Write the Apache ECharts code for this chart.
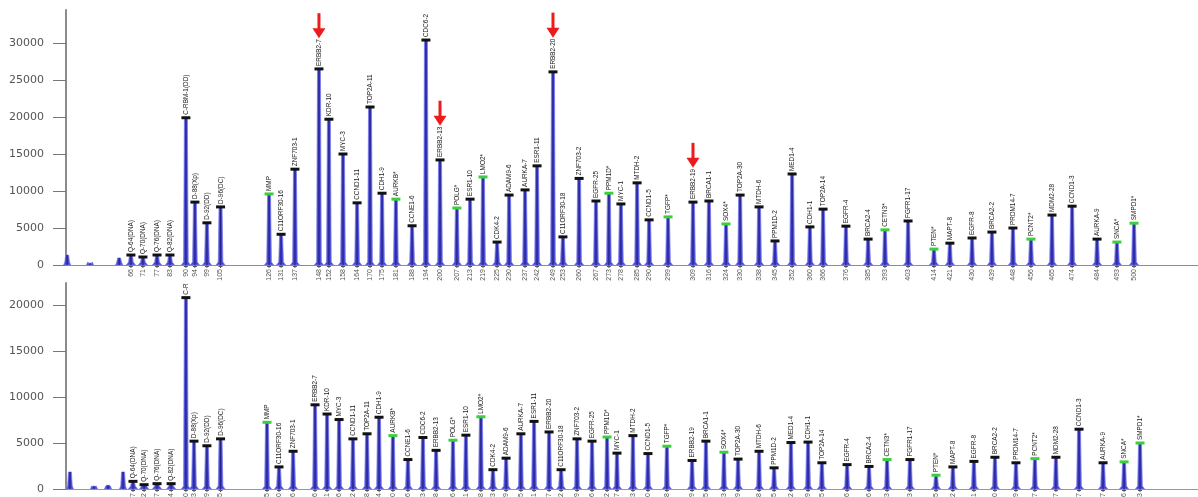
<!DOCTYPE html>
<html><head><meta charset="utf-8">
<script src="https://cdn.jsdelivr.net/npm/echarts@6/dist/echarts.min.js"></script>
<style>html,body{margin:0;padding:0;background:#fff}#c{width:1198px;height:497px}</style>
</head><body><div id="c"></div>
<script>
// ---- data (probe name, fragment size in nt, peak height) ----
const probeLabels = ["Q-64(DNA)","Q-70(DNA)","Q-76(DNA)","Q-82(DNA)","C-RBM-1(DD)","D-88(Xp)","D-92(DD)","D-96(DC)",
  "MMP","C11ORF30-16","ZNF703-1","ERBB2-7","KDR-10","MYC-3","CCND1-11","TOP2A-11","CDH1-9","AURKB*","CCNE1-6",
  "CDC6-2","ERBB2-13","POLG*","ESR1-10","LMO2*","CDK4-2","ADAM9-6","AURKA-7","ESR1-11","ERBB2-20","C11ORF30-18",
  "ZNF703-2","EGFR-25","PPM1D*","MYC-1","MTDH-2","CCND1-5","TGFP*","ERBB2-19","BRCA1-1","SOX4*","TOP2A-30",
  "MTDH-6","PPM1D-2","MED1-4","CDH1-1","TOP2A-14","EGFR-4","BRCA2-4","CETN3*","FGFR1-17","PTEN*","MAPT-8",
  "EGFR-8","BRCA2-2","PRDM14-7","PCNT2*","MDM2-28","CCND1-3","AURKA-9","SNCA*","SMPD1*"];
const refProbeIdx = [8,17,21,23,32,36,39,48,50,55,59,60];
const arrowProbes = ["ERBB2-7","ERBB2-13","ERBB2-20","ERBB2-19"];

const topSizes = [66.1,71.3,77.4,83.0,89.9,93.8,99.0,104.9,125.9,131.1,137.1,147.5,151.8,157.9,164.0,169.6,174.8,
  180.8,187.8,193.8,199.9,207.2,212.9,218.5,224.6,229.8,236.7,241.9,248.8,253.1,260.1,267.4,273.0,278.2,285.2,
  290.4,298.6,309.4,316.3,323.7,329.8,338.0,344.9,352.3,360.0,365.7,375.6,385.2,392.5,402.5,413.7,420.6,430.2,
  438.8,447.9,455.7,464.8,473.5,484.3,492.9,500.3];
const topHeights = [1350,1080,1350,1350,19900,8500,5700,7850,9600,4150,12950,26500,19700,15000,8400,21350,9700,
  8900,5300,30400,14200,7700,8900,11900,3100,9450,10150,13400,26100,3800,11700,8650,9700,8250,11100,6100,6500,
  8500,8650,5550,9450,7850,3250,12300,5150,7550,5250,3500,4750,5950,2150,2950,3650,4450,5000,3500,6750,7950,
  3500,3100,5650];
const topMinorSizes = [38.5,48.4,61.0];
const topMinorHeights = [1350,250,950];

const bottomSizes = [67.0,71.8,77.4,83.5,89.9,93.4,99.0,104.9,125.0,130.2,136.3,145.8,151.0,156.2,162.2,168.3,
  173.5,179.5,186.0,192.5,198.2,205.5,211.1,217.6,222.8,228.5,234.9,240.6,247.1,252.3,259.2,265.7,272.2,276.5,
  283.4,289.9,298.1,309.0,315.0,322.8,328.9,338.0,344.5,351.8,359.2,365.2,376.1,385.6,393.4,403.3,414.6,421.9,
  431.0,440.1,449.2,457.4,466.5,476.5,486.9,496.0,502.9];
const bottomHeights = [830,470,580,580,20800,5200,4700,5450,7250,2400,4100,9150,8150,7550,5450,6000,7800,5800,
  3200,5600,4200,5300,5850,7850,2100,3350,6000,7350,6200,2100,5450,5200,5650,3900,5800,3850,4650,3100,5200,4000,
  3250,4100,2300,5050,5100,2850,2650,2450,3200,3200,1500,2400,3000,3450,2850,3300,3450,6500,2850,2950,5000];
const bottomMinorSizes = [39.7,50.1,56.2,62.7];
const bottomMinorHeights = [1850,300,400,1850];

const topTicks = [0,5000,10000,15000,20000,25000,30000];
const bottomTicks = [0,5000,10000,15000,20000];

// ---- rendering ----
const LABEL_FONT = "8px 'Liberation Sans', Arial, sans-serif";
const LABEL_SCALE = 0.8;
const measureCtx = document.createElement('canvas').getContext('2d');
measureCtx.font = LABEL_FONT;
function labelLen(t){ return measureCtx.measureText(t).width * LABEL_SCALE; }

function peakShape(x, yT, y0, major){
  const hw = major ? 4.5 : 3.5;
  return [
    {type:'polygon', shape:{points:[[x-hw,y0],[x-2.3,y0-3],[x-1.5,yT],[x+1.5,yT],[x+2.3,y0-3],[x+hw,y0]]},
      style:{fill:'#4646d0', stroke:'rgba(120,120,235,0.75)', lineWidth:1}},
    {type:'line', shape:{x1:x,y1:y0,x2:x,y2:yT}, style:{stroke:'#22228a', lineWidth:1.2}}
  ];
}

function peakRender(params, api){
  const i = params.dataIndex;
  const t = api.coord([api.value(0), api.value(1)]);
  const b = api.coord([api.value(0), 0]);
  const x = t[0], yT = t[1], y0 = b[1];
  const children = peakShape(x, yT, y0, true);
  const ref = refProbeIdx.indexOf(i) >= 0;
  children.push({type:'rect', shape:{x:x-4.5, y:yT-1.5, width:9, height:3},
    style:{fill: ref ? '#3ccf3c' : '#111'}});
  const name = probeLabels[i];
  children.push({type:'text', x:x, y:yT-3, rotation:Math.PI/2, scaleX:LABEL_SCALE,
    style:{text:name, font:LABEL_FONT, fill:'#1a1a1a', align:'left', verticalAlign:'middle'}});
  if (params.seriesIndex === 0 && arrowProbes.indexOf(name) >= 0){
    const tip = yT - 3 - labelLen(name) - 1;
    children.push({type:'line', shape:{x1:x,y1:tip-25,x2:x,y2:tip-8}, style:{stroke:'#ee1b1b', lineWidth:3}});
    children.push({type:'polygon', shape:{points:[[x-6.5,tip-10],[x+6.5,tip-10],[x,tip]]}, style:{fill:'#ee1b1b'}});
  }
  return {type:'group', children};
}

function minorRender(params, api){
  const t = api.coord([api.value(0), api.value(1)]);
  const b = api.coord([api.value(0), 0]);
  return {type:'group', children: peakShape(t[0], t[1], b[1], false)};
}

function sizeRender(params, api){
  const b = api.coord([api.value(0), 0]);
  const x = b[0], y0 = b[1];
  return {type:'group', children:[
    {type:'line', shape:{x1:x-2,y1:y0+1.5,x2:x+2,y2:y0+1.5}, style:{stroke:'#555', lineWidth:1}},
    {type:'line', shape:{x1:x,y1:y0,x2:x,y2:y0+3}, style:{stroke:'#555', lineWidth:1}},
    {type:'text', x:x, y:y0+4, rotation:Math.PI/2,
      style:{text:String(Math.round(api.value(0))), font:"7px 'Liberation Sans', Arial, sans-serif",
        fill:'#555', align:'right', verticalAlign:'middle'}}
  ]};
}

const pairs = (s,h) => s.map((v,i)=>[v,h[i]]);

function yAxisCfg(gridIndex, max, ticks){
  return {type:'value', gridIndex, min:0, max, interval:5000,
    axisLine:{show:true, lineStyle:{color:'#8c8c8c', width:2}},
    axisTick:{show:true, length:13, customValues:ticks, lineStyle:{color:'#777', width:1}},
    axisLabel:{customValues:ticks, margin:22, color:'#555', fontSize:11, fontFamily:'DejaVu Sans',
      formatter: v => String(v)},
    splitLine:{show:false}};
}
function xAxisCfg(gridIndex, color){
  return {type:'value', gridIndex, min:38, max:528,
    axisLine:{show:true, onZero:true, lineStyle:{color, width:1}},
    axisTick:{show:false}, axisLabel:{show:false}, splitLine:{show:false}};
}

const chart = echarts.init(document.getElementById('c'), null, {renderer:'canvas'});
chart.setOption({
  animation:false,
  backgroundColor:'#fff',
  grid:[{left:66, right:0, top:10, height:255}, {left:66, right:0, top:283, height:206}],
  xAxis:[xAxisCfg(0,'#8a8a9a'), xAxisCfg(1,'#d9788a')],
  yAxis:[yAxisCfg(0,34460,topTicks), yAxisCfg(1,22390,bottomTicks)],
  series:[
    {type:'custom', xAxisIndex:0, yAxisIndex:0, renderItem:peakRender, data:pairs(topSizes,topHeights), clip:false, z:3},
    {type:'custom', xAxisIndex:1, yAxisIndex:1, renderItem:peakRender, data:pairs(bottomSizes,bottomHeights), clip:true, z:3},
    {type:'custom', xAxisIndex:0, yAxisIndex:0, renderItem:minorRender, data:pairs(topMinorSizes,topMinorHeights), clip:false, z:2},
    {type:'custom', xAxisIndex:1, yAxisIndex:1, renderItem:minorRender, data:pairs(bottomMinorSizes,bottomMinorHeights), clip:false, z:2},
    {type:'custom', xAxisIndex:0, yAxisIndex:0, renderItem:sizeRender, data:pairs(topSizes,topHeights), clip:false, z:2},
    {type:'custom', xAxisIndex:1, yAxisIndex:1, renderItem:sizeRender, data:pairs(bottomSizes,bottomHeights), clip:false, z:2}
  ]
});
</script></body></html>
